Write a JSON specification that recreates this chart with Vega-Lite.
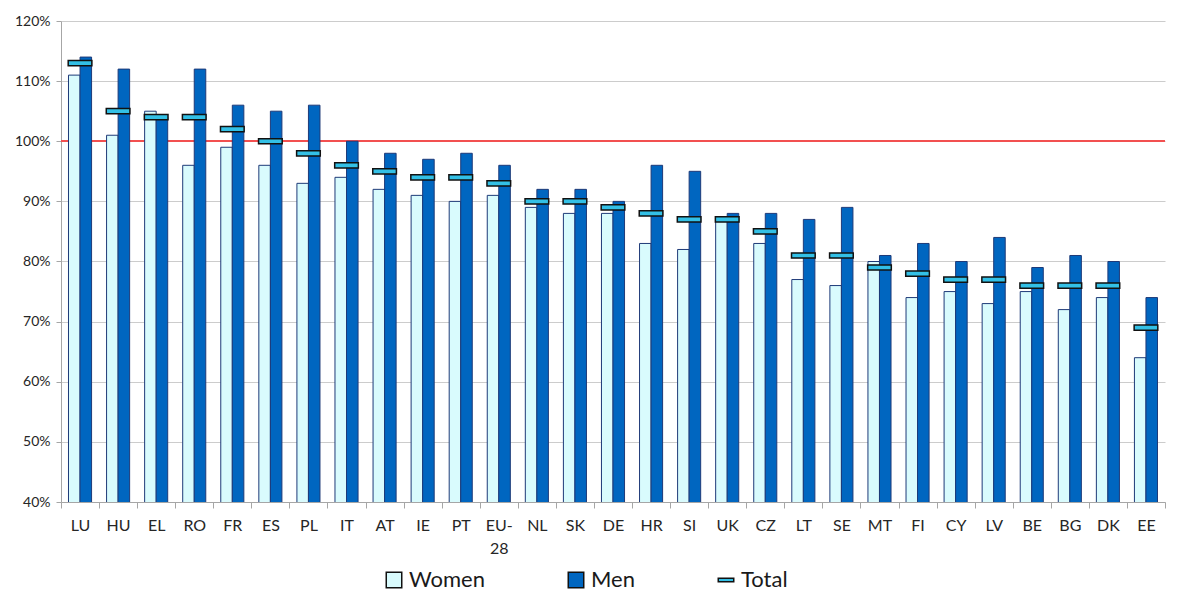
{
  "$schema": "https://vega.github.io/schema/vega-lite/v6.json",
  "autosize": "none",
  "width": 1104,
  "height": 481,
  "padding": {"left": 61, "top": 21, "right": 30, "bottom": 104},
  "background": "white",
  "config": {
    "font": "Lato",
    "view": {"stroke": null},
    "axis": {"labelFont": "Lato", "labelColor": "#262626", "titleFont": "Lato"}
  },
  "data": {
    "values": [
      {"country": "LU", "series": "Women", "value": 1.11}, {"country": "LU", "series": "Men", "value": 1.14}, {"country": "LU", "series": "Total", "value": 1.13},
      {"country": "HU", "series": "Women", "value": 1.01}, {"country": "HU", "series": "Men", "value": 1.12}, {"country": "HU", "series": "Total", "value": 1.05},
      {"country": "EL", "series": "Women", "value": 1.05}, {"country": "EL", "series": "Men", "value": 1.04}, {"country": "EL", "series": "Total", "value": 1.04},
      {"country": "RO", "series": "Women", "value": 0.96}, {"country": "RO", "series": "Men", "value": 1.12}, {"country": "RO", "series": "Total", "value": 1.04},
      {"country": "FR", "series": "Women", "value": 0.99}, {"country": "FR", "series": "Men", "value": 1.06}, {"country": "FR", "series": "Total", "value": 1.02},
      {"country": "ES", "series": "Women", "value": 0.96}, {"country": "ES", "series": "Men", "value": 1.05}, {"country": "ES", "series": "Total", "value": 1.0},
      {"country": "PL", "series": "Women", "value": 0.93}, {"country": "PL", "series": "Men", "value": 1.06}, {"country": "PL", "series": "Total", "value": 0.98},
      {"country": "IT", "series": "Women", "value": 0.94}, {"country": "IT", "series": "Men", "value": 1.0}, {"country": "IT", "series": "Total", "value": 0.96},
      {"country": "AT", "series": "Women", "value": 0.92}, {"country": "AT", "series": "Men", "value": 0.98}, {"country": "AT", "series": "Total", "value": 0.95},
      {"country": "IE", "series": "Women", "value": 0.91}, {"country": "IE", "series": "Men", "value": 0.97}, {"country": "IE", "series": "Total", "value": 0.94},
      {"country": "PT", "series": "Women", "value": 0.90}, {"country": "PT", "series": "Men", "value": 0.98}, {"country": "PT", "series": "Total", "value": 0.94},
      {"country": "EU-28", "series": "Women", "value": 0.91}, {"country": "EU-28", "series": "Men", "value": 0.96}, {"country": "EU-28", "series": "Total", "value": 0.93},
      {"country": "NL", "series": "Women", "value": 0.89}, {"country": "NL", "series": "Men", "value": 0.92}, {"country": "NL", "series": "Total", "value": 0.90},
      {"country": "SK", "series": "Women", "value": 0.88}, {"country": "SK", "series": "Men", "value": 0.92}, {"country": "SK", "series": "Total", "value": 0.90},
      {"country": "DE", "series": "Women", "value": 0.88}, {"country": "DE", "series": "Men", "value": 0.90}, {"country": "DE", "series": "Total", "value": 0.89},
      {"country": "HR", "series": "Women", "value": 0.83}, {"country": "HR", "series": "Men", "value": 0.96}, {"country": "HR", "series": "Total", "value": 0.88},
      {"country": "SI", "series": "Women", "value": 0.82}, {"country": "SI", "series": "Men", "value": 0.95}, {"country": "SI", "series": "Total", "value": 0.87},
      {"country": "UK", "series": "Women", "value": 0.87}, {"country": "UK", "series": "Men", "value": 0.88}, {"country": "UK", "series": "Total", "value": 0.87},
      {"country": "CZ", "series": "Women", "value": 0.83}, {"country": "CZ", "series": "Men", "value": 0.88}, {"country": "CZ", "series": "Total", "value": 0.85},
      {"country": "LT", "series": "Women", "value": 0.77}, {"country": "LT", "series": "Men", "value": 0.87}, {"country": "LT", "series": "Total", "value": 0.81},
      {"country": "SE", "series": "Women", "value": 0.76}, {"country": "SE", "series": "Men", "value": 0.89}, {"country": "SE", "series": "Total", "value": 0.81},
      {"country": "MT", "series": "Women", "value": 0.80}, {"country": "MT", "series": "Men", "value": 0.81}, {"country": "MT", "series": "Total", "value": 0.79},
      {"country": "FI", "series": "Women", "value": 0.74}, {"country": "FI", "series": "Men", "value": 0.83}, {"country": "FI", "series": "Total", "value": 0.78},
      {"country": "CY", "series": "Women", "value": 0.75}, {"country": "CY", "series": "Men", "value": 0.80}, {"country": "CY", "series": "Total", "value": 0.77},
      {"country": "LV", "series": "Women", "value": 0.73}, {"country": "LV", "series": "Men", "value": 0.84}, {"country": "LV", "series": "Total", "value": 0.77},
      {"country": "BE", "series": "Women", "value": 0.75}, {"country": "BE", "series": "Men", "value": 0.79}, {"country": "BE", "series": "Total", "value": 0.76},
      {"country": "BG", "series": "Women", "value": 0.72}, {"country": "BG", "series": "Men", "value": 0.81}, {"country": "BG", "series": "Total", "value": 0.76},
      {"country": "DK", "series": "Women", "value": 0.74}, {"country": "DK", "series": "Men", "value": 0.80}, {"country": "DK", "series": "Total", "value": 0.76},
      {"country": "EE", "series": "Women", "value": 0.64}, {"country": "EE", "series": "Men", "value": 0.74}, {"country": "EE", "series": "Total", "value": 0.69}
    ]
  },
  "encoding": {
    "x": {
      "field": "country", "type": "nominal", "sort": null, "title": null,
      "scale": {"paddingInner": 0, "paddingOuter": 0},
      "axis": {
        "tickBand": "extent", "labelAngle": 0, "labelFontSize": 16, "labelPadding": 9,
        "tickSize": 6, "tickColor": "#a6a6a6", "domainColor": "#a6a6a6",
        "labelExpr": "datum.label == 'EU-28' ? ['EU-', '28'] : datum.label",
        "labelLineHeight": 23, "labelBaseline": "top"
      }
    },
    "y": {
      "field": "value", "type": "quantitative", "title": null,
      "scale": {"domain": [0.4, 1.2], "nice": false, "zero": false},
      "axis": {
        "values": [0.4, 0.5, 0.6, 0.7, 0.8, 0.9, 1.0, 1.1, 1.2], "format": ".0%",
        "labelFontSize": 14, "labelPadding": 6, "tickSize": 5,
        "tickColor": "#a6a6a6", "domainColor": "#a6a6a6",
        "gridColor": "#cccccc", "gridWidth": 1.2
      }
    }
  },
  "layer": [
    {
      "mark": {"type": "rule", "color": "#f25050", "strokeWidth": 1.6},
      "encoding": {"y": {"datum": 1.0}, "x": null}
    },
    {
      "transform": [{"filter": "datum.series != 'Total'"}],
      "mark": {"type": "bar", "stroke": "#1e3a78", "strokeWidth": 1, "clip": true},
      "encoding": {
        "xOffset": {"field": "series", "type": "nominal", "sort": ["Women", "Men"], "scale": {"domain": ["Women", "Men"], "paddingInner": 0, "paddingOuter": 0.65}},
        "color": {
          "field": "series", "type": "nominal", "title": null,
          "scale": {"domain": ["Women", "Men", "Total"], "range": ["#d9fbfd", "#0066c0", "#33c0e6"]},
          "legend": {
            "orient": "none", "legendX": 322, "legendY": 548, "direction": "horizontal", "labelFontSize": 22, "labelColor": "#1a1a1a",
            "symbolSize": 240, "symbolStrokeColor": "#1e3a78", "symbolStrokeWidth": 1.5,
            "columnPadding": 80, "labelOffset": 4
          }
        }
      }
    },
    {
      "transform": [{"filter": "datum.series == 'Total'"}],
      "mark": {"type": "point", "filled": true, "opacity": 1, "stroke": "#111111", "strokeWidth": 1.5, "size": 560},
      "encoding": {
        "color": {"field": "series", "type": "nominal", "title": null},
        "shape": {
          "field": "series", "type": "nominal", "title": null,
          "scale": {"domain": ["Women", "Men", "Total"], "range": ["square", "square", "M-1,-0.22H1V0.22H-1Z"]}
        }
      }
    }
  ]
}
